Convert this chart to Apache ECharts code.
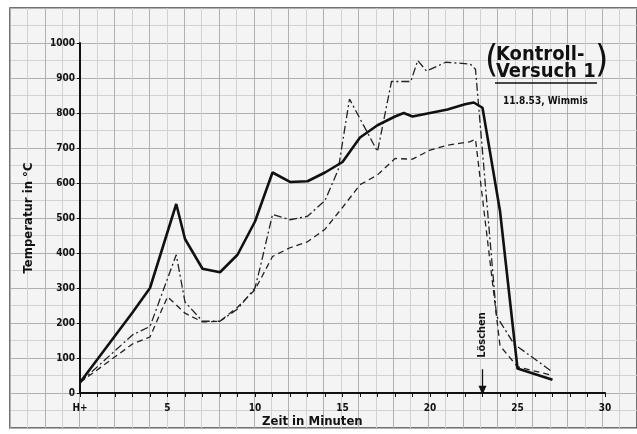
<!DOCTYPE html>
<html><head><meta charset="utf-8">
<script src="https://cdn.jsdelivr.net/npm/echarts@6/dist/echarts.min.js"></script>
<style>html,body{margin:0;padding:0;background:#fff}#c{width:637px;height:434px}</style>
</head><body><div id="c"></div>
<script>
// Time (minutes) and temperature (°C) readings
var solidT = [0,3,4,5.5,6,7,8,9,10,11,12,13,14,15,15.5,16,17,18,18.5,19,20,21,22,22.5,23,24,25,27];
var solidV = [30,230,300,540,440,355,345,395,490,630,603,605,630,660,695,730,765,790,800,790,800,810,825,830,815,520,70,38];
var dashDotT = [0,3,4,5.5,6,7,8,9,10,10.3,11,12,13,14,14.75,15.4,17,17.8,18.9,19.3,19.8,20.9,22.3,22.6,23.8,24.8,27];
var dashDotV = [30,166,190,395,260,205,205,240,300,360,510,495,505,550,637,840,690,890,890,950,920,945,940,925,220,140,60];
var dashedT = [0,3,4,5,6,7,8,9,10,11,12,13,14,15,16,17,18,19,20,21,22.3,22.6,24,25,27];
var dashedV = [30,140,160,275,228,203,205,245,295,390,415,432,468,530,595,623,670,668,694,708,718,725,135,75,50];
var xTickLabels = {0:'H+',5:'5',10:'10',15:'15',20:'20',25:'25',30:'30'};
var loeschenT = 23;

function pairs(t, v){ return t.map(function(x,i){ return [x, v[i]]; }); }

var FONT = "'DejaVu Sans Condensed','Liberation Sans Narrow','DejaVu Sans',sans-serif";
var chart = echarts.init(document.getElementById('c'), null, {renderer:'canvas'});
chart.setOption({
  animation:false,
  backgroundColor:'#ffffff',
  grid:[
    {left:80, top:43, width:525, height:350},
    {left:10, top:8, width:630, height:420, show:true, backgroundColor:'#f4f4f4', borderColor:'#444', borderWidth:1.5, z:0}
  ],
  xAxis:[
    {type:'value', gridIndex:0, min:0, max:30, interval:5,
     axisLine:{show:true, onZero:false, lineStyle:{color:'#111', width:2}},
     axisTick:{show:true, length:4, lineStyle:{color:'#111', width:1}},
     minorTick:{show:true, splitNumber:5, length:4, lineStyle:{color:'#111', width:1}},
     splitLine:{show:false},
     axisLabel:{margin:10, color:'#111', fontFamily:FONT, fontWeight:'bold', fontSize:10,
       formatter:function(v){ return xTickLabels[v] !== undefined ? xTickLabels[v] : ''; }}},
    {type:'value', gridIndex:1, min:0, max:18, interval:1,
     axisLine:{show:false}, axisTick:{show:false}, axisLabel:{show:false},
     splitLine:{show:true, lineStyle:{color:'#b0b0b0', width:1}},
     minorTick:{show:false, splitNumber:2},
     minorSplitLine:{show:true, lineStyle:{color:'#d2d2d2', width:1}}}
  ],
  yAxis:[
    {type:'value', gridIndex:0, min:0, max:1000, interval:100,
     name:'Temperatur in °C', nameLocation:'middle', nameGap:45,
     nameTextStyle:{color:'#111', fontFamily:FONT, fontWeight:'bold', fontSize:13},
     axisLine:{show:true, onZero:false, lineStyle:{color:'#111', width:2}},
     axisTick:{show:true, length:3, lineStyle:{color:'#111', width:1}},
     splitLine:{show:false},
     axisLabel:{margin:5, color:'#111', fontFamily:FONT, fontWeight:'bold', fontSize:10,
       formatter:function(v){ return String(v); }}},
    {type:'value', gridIndex:1, min:0, max:12, interval:1,
     axisLine:{show:false}, axisTick:{show:false}, axisLabel:{show:false},
     splitLine:{show:true, lineStyle:{color:'#b0b0b0', width:1}},
     minorTick:{show:false, splitNumber:2},
     minorSplitLine:{show:true, lineStyle:{color:'#d2d2d2', width:1}}}
  ],
  series:[
    {type:'line', xAxisIndex:0, yAxisIndex:0, data:pairs(solidT, solidV), showSymbol:false, z:5,
     lineStyle:{color:'#111', width:2.6}, silent:true,
     markLine:{silent:true, symbol:['none','triangle'], symbolSize:[8,9],
       label:{show:false}, lineStyle:{color:'#111', width:1.3, type:'solid'},
       data:[[{coord:[loeschenT, 68]},{coord:[loeschenT, 8]}]]}},
    {type:'line', xAxisIndex:0, yAxisIndex:0, data:pairs(dashDotT, dashDotV), showSymbol:false, z:4,
     lineStyle:{color:'#222', width:1.3, type:[8,3,2,3]}, silent:true},
    {type:'line', xAxisIndex:0, yAxisIndex:0, data:pairs(dashedT, dashedV), showSymbol:false, z:4,
     lineStyle:{color:'#222', width:1.3, type:[6,4]}, silent:true}
  ],
  graphic:[
    {type:'text', left:485, top:42, z:10, style:{text:'(', font:'normal 38px '+FONT, fill:'#111'}},
    {type:'text', left:496, top:45, z:10, style:{text:'Kontroll-', font:'bold 20px '+FONT, fill:'#111'}},
    {type:'text', left:595, top:42, z:10, style:{text:')', font:'normal 38px '+FONT, fill:'#111'}},
    {type:'text', left:496, top:62, z:10, style:{text:'Versuch 1', font:'bold 20px '+FONT, fill:'#111'}},
    {type:'line', z:10, shape:{x1:495, y1:83, x2:597, y2:83}, style:{stroke:'#111', lineWidth:1.5}},
    {type:'text', left:503, top:96, z:10, style:{text:'11.8.53, Wimmis', font:'bold 10px '+FONT, fill:'#111'}},
    {type:'text', left:262, top:415, z:10, style:{text:'Zeit in Minuten', font:'bold 13px '+FONT, fill:'#111'}},
    {type:'text', x:482, y:335, rotation:Math.PI/2, z:10,
     style:{text:'Löschen', font:'bold 11px '+FONT, fill:'#111', textAlign:'center', textVerticalAlign:'middle'}}
  ]
});
</script></body></html>
